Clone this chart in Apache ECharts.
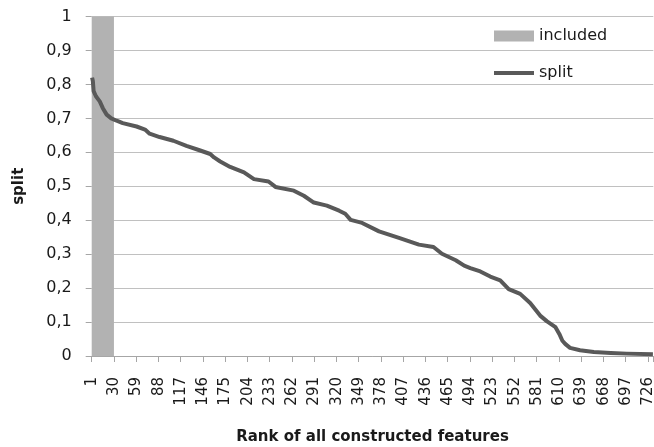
<!DOCTYPE html>
<html>
<head>
<meta charset="utf-8">
<script src="https://cdn.jsdelivr.net/npm/echarts@6/dist/echarts.min.js"></script>
<style>
  html, body { margin: 0; padding: 0; background: #fff; }
  #chart { width: 654px; height: 447px; }
</style>
</head>
<body>
<div id="chart"></div>
<script>
// Number of ranked features on the x axis
const featureCount = 732;
const ranks = Array.from({ length: featureCount }, (_, i) => String(i + 1));

// Ranks shaded as "included" (first and last rank) and its height
const includedRange = ['1', '29'];
const includedHeight = 1;

// "split" score sampled along the ranking
const splitRanks = [1, 2, 3, 6, 11, 15, 20, 26, 33, 41, 59, 70, 76, 89, 107, 124, 141, 155, 160, 168,
  181, 199, 212, 231, 240, 264, 277, 290, 307, 323, 331, 338, 353, 375, 401, 427, 446, 457, 475, 486,
  494, 507, 520, 533, 544, 559, 572, 585, 594, 605, 610, 614, 618, 624, 637, 655, 677, 698, 732];
const splitValues = [0.82, 0.81, 0.78, 0.765, 0.75, 0.73, 0.711, 0.70, 0.693, 0.686, 0.676, 0.667, 0.655, 0.645, 0.634, 0.619, 0.606, 0.595, 0.585, 0.573,
  0.557, 0.541, 0.521, 0.514, 0.498, 0.487, 0.472, 0.452, 0.443, 0.428, 0.419, 0.401, 0.392, 0.367, 0.348, 0.328, 0.321, 0.301, 0.282, 0.266,
  0.259, 0.249, 0.234, 0.223, 0.197, 0.183, 0.156, 0.119, 0.102, 0.085, 0.065, 0.045, 0.035, 0.024, 0.017, 0.012, 0.009, 0.007, 0.005];

// Tick labels
const yTickLabels = ['0', '0,1', '0,2', '0,3', '0,4', '0,5', '0,6', '0,7', '0,8', '0,9', '1'];
const xLabelStep = 29;

const FONT = 'DejaVu Sans';
const LINE_COLOR = '#595959';
const chart = echarts.init(document.getElementById('chart'), null, { renderer: 'canvas' });

chart.setOption({
  animation: false,
  backgroundColor: '#ffffff',
  textStyle: { fontFamily: FONT },
  grid: { left: 91.7, right: 0.7, top: 16.5, bottom: 91, containLabel: false, outerBoundsMode: 'none' },
  legend: {
    orient: 'vertical',
    left: 487,
    top: 23,
    itemWidth: 40,
    itemHeight: 11,
    itemGap: 21,
    textStyle: { fontFamily: FONT, fontSize: 16, color: '#1a1a1a' },
    data: [
      { name: 'included', icon: 'rect' },
      { name: 'split', itemStyle: { opacity: 0 }, lineStyle: { width: 4, color: LINE_COLOR } }
    ]
  },
  xAxis: {
    type: 'category',
    data: ranks,
    boundaryGap: true,
    name: 'Rank of all constructed features',
    nameLocation: 'middle',
    nameGap: 74,
    nameTextStyle: { fontFamily: FONT, fontSize: 15, fontWeight: 'bold', color: '#1a1a1a' },
    axisLine: { show: true, lineStyle: { color: '#a6a6a6', width: 1 } },
    axisTick: { show: true, interval: xLabelStep - 1, length: 6, lineStyle: { color: '#a6a6a6' } },
    axisLabel: {
      interval: xLabelStep - 1,
      rotate: 90,
      margin: 21,
      fontFamily: FONT,
      fontSize: 15,
      color: '#1a1a1a'
    },
    splitLine: { show: false }
  },
  yAxis: {
    type: 'value',
    min: 0,
    max: 1,
    interval: 0.1,
    name: 'split',
    nameLocation: 'middle',
    nameGap: 65,
    nameTextStyle: { fontFamily: FONT, fontSize: 15, fontWeight: 'bold', color: '#1a1a1a' },
    axisLine: { show: false },
    axisTick: { show: true, length: 6, lineStyle: { color: '#a6a6a6' } },
    axisLabel: {
      margin: 20,
      fontFamily: FONT,
      fontSize: 16,
      color: '#1a1a1a',
      formatter: v => yTickLabels[Math.round(v * 10)]
    },
    splitLine: { show: true, lineStyle: { color: '#c0c0c0', width: 1.2 } }
  },
  series: [
    {
      name: 'included',
      type: 'custom',
      itemStyle: { color: '#b2b2b2' },
      encode: { x: [0, 1], y: 2 },
      data: [[includedRange[0], includedRange[1], includedHeight]],
      renderItem: (params, api) => {
        const top = api.coord([api.value(0), api.value(2)]);
        const bottom = api.coord([api.value(1), 0]);
        const band = api.size([1, 0])[0];
        return {
          type: 'rect',
          shape: {
            x: top[0] - band / 2,
            y: top[1],
            width: bottom[0] - top[0] + band,
            height: bottom[1] - top[1]
          },
          style: api.style()
        };
      },
      z: 1
    },
    {
      name: 'split',
      type: 'line',
      symbol: 'none',
      smooth: false,
      lineStyle: { color: LINE_COLOR, width: 4, join: 'round' },
      itemStyle: { color: LINE_COLOR },
      data: splitRanks.map((r, i) => [String(r), splitValues[i]]),
      z: 3
    }
  ]
});
</script>
</body>
</html>
